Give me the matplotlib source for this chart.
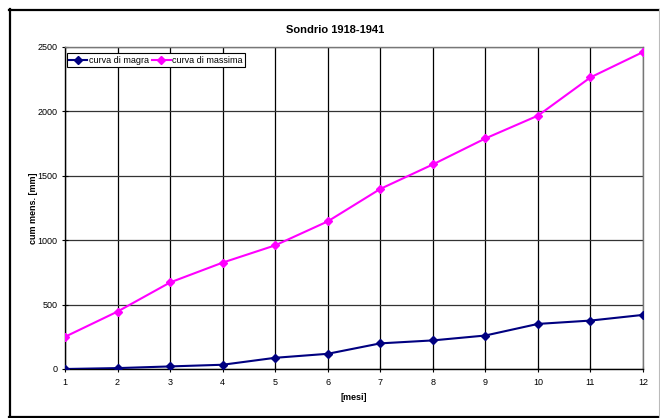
import matplotlib
matplotlib.use("Agg")
import matplotlib.pyplot as plt
from matplotlib.lines import Line2D

plt.rcParams['font.family'] = ['Liberation Sans', 'DejaVu Sans']

mesi = [1, 2, 3, 4, 5, 6, 7, 8, 9, 10, 11, 12]
magra = [0, 7, 20, 33, 87, 118, 199, 222, 260, 350, 376, 420]
massima = [250, 446, 672, 826, 960, 1146, 1398, 1588, 1790, 1967, 2264, 2461]
yticks = [0, 500, 1000, 1500, 2000, 2500]

W, H = 660, 418
fig = plt.figure(figsize=(W / 100, H / 100), dpi=100)

def fx(px):
    return px / W

def fy(py):
    return 1 - py / H

# outer border
fig.add_artist(Line2D([fx(9), fx(660)], [fy(9.5), fy(9.5)], color='black', lw=1.6, transform=fig.transFigure))
fig.add_artist(Line2D([fx(9.5), fx(9.5)], [fy(9), fy(416.5)], color='black', lw=1.6, transform=fig.transFigure))
fig.add_artist(Line2D([fx(9), fx(660)], [fy(416.5), fy(416.5)], color='black', lw=1.6, transform=fig.transFigure))
fig.add_artist(Line2D([fx(658.5), fx(658.5)], [fy(9), fy(416.5)], color='#bbbbbb', lw=0.8, transform=fig.transFigure))

left, right, top, bottom = 65, 643, 47, 369
ax = fig.add_axes([fx(left), fy(bottom), fx(right - left), (bottom - top) / H])

ax.plot(mesi, magra, color='#000080', lw=1.5, marker='D', ms=3.6, label='curva di magra', zorder=3)
ax.plot(mesi, massima, color='#ff00ff', lw=1.5, marker='D', ms=3.6, label='curva di massima', zorder=3)

ax.set_xlim(1, 12)
ax.set_ylim(0, 2500)
ax.set_xticks(mesi)
ax.set_yticks(yticks)
ax.tick_params(axis='both', labelsize=6.5, direction='inout', length=5, width=0.8, colors='black', pad=3)
ax.tick_params(axis='x', pad=4)

ax.grid(axis='x', color='black', lw=0.9, zorder=1)
ax.grid(axis='y', color='#333333', lw=0.9, zorder=1)
ax.set_axisbelow(True)

for s in ['left', 'bottom']:
    ax.spines[s].set_color('black')
    ax.spines[s].set_linewidth(1.0)
for s in ['top', 'right']:
    ax.spines[s].set_color('#777777')
    ax.spines[s].set_linewidth(1.0)

ax.set_xlabel('[mesi]', fontsize=6.5, fontweight='bold')
ax.set_ylabel('cum mens. [mm]', fontsize=6.5, fontweight='bold')
ax.yaxis.set_label_coords((33 - left) / (right - left), 0.5)
ax.xaxis.set_label_coords(0.5, (bottom - 398) / (bottom - top))
ax.xaxis.label.set_va('center')
ax.yaxis.label.set_va('center')

fig.text(fx(335), fy(30), 'Sondrio 1918-1941', fontsize=8, fontweight='bold', ha='center', va='center')

leg = ax.legend(loc='upper left', bbox_to_anchor=(0.003, 0.98), ncol=2, fontsize=6.5, frameon=True,
                fancybox=False, edgecolor='black', framealpha=1, handlelength=2.0, handletextpad=0.2,
                columnspacing=0.4, borderpad=0.25, borderaxespad=0)
leg.get_frame().set_linewidth(0.8)

fig.savefig('out.png', dpi=100)
